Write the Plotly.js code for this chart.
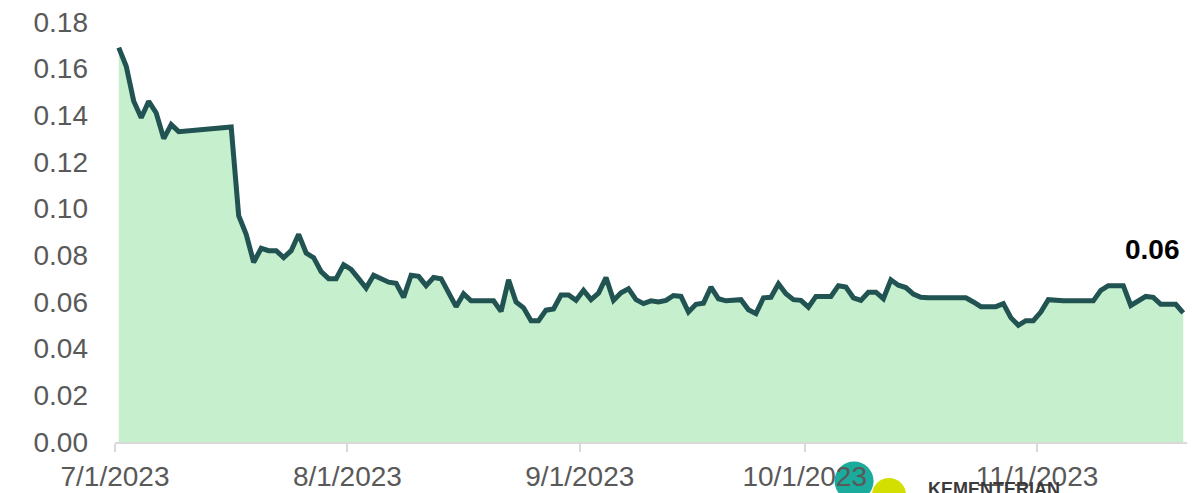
<!DOCTYPE html>
<html>
<head>
<meta charset="utf-8">
<script src="https://cdn.plot.ly/plotly-3.0.1.min.js"></script>
<style>
  html, body { margin: 0; padding: 0; background: #ffffff; }
  #chart { width: 1196px; height: 493px; }
</style>
</head>
<body>
<div id="chart"></div>
<script>
// ---- data ----
const dates = [
  "2023-07-01","2023-07-02","2023-07-03","2023-07-04","2023-07-05","2023-07-06","2023-07-07","2023-07-08","2023-07-09",
  "2023-07-16","2023-07-17","2023-07-18","2023-07-19","2023-07-20","2023-07-21","2023-07-22","2023-07-23","2023-07-24",
  "2023-07-25","2023-07-26","2023-07-27","2023-07-28","2023-07-29","2023-07-30","2023-07-31",
  "2023-08-01","2023-08-02","2023-08-03","2023-08-04","2023-08-05","2023-08-06","2023-08-07","2023-08-08","2023-08-09",
  "2023-08-10","2023-08-11","2023-08-12","2023-08-13","2023-08-14","2023-08-15","2023-08-16","2023-08-17","2023-08-18",
  "2023-08-19","2023-08-20","2023-08-21","2023-08-22","2023-08-23","2023-08-24","2023-08-25","2023-08-26","2023-08-27",
  "2023-08-28","2023-08-29","2023-08-30","2023-08-31",
  "2023-09-01","2023-09-02","2023-09-03","2023-09-04","2023-09-05","2023-09-06","2023-09-07","2023-09-08","2023-09-09",
  "2023-09-10","2023-09-11","2023-09-12","2023-09-13","2023-09-14","2023-09-15","2023-09-16","2023-09-17","2023-09-18",
  "2023-09-19","2023-09-20","2023-09-21","2023-09-22","2023-09-23","2023-09-24","2023-09-25","2023-09-26","2023-09-27",
  "2023-09-28","2023-09-29","2023-09-30",
  "2023-10-01","2023-10-02","2023-10-03","2023-10-04","2023-10-05","2023-10-06","2023-10-07","2023-10-08","2023-10-09",
  "2023-10-10","2023-10-11","2023-10-12","2023-10-13","2023-10-14","2023-10-15","2023-10-16","2023-10-17","2023-10-18",
  "2023-10-19","2023-10-20","2023-10-21","2023-10-22","2023-10-23","2023-10-24","2023-10-25","2023-10-26","2023-10-27",
  "2023-10-28","2023-10-29","2023-10-30","2023-10-31",
  "2023-11-01","2023-11-02","2023-11-03","2023-11-04","2023-11-05","2023-11-06","2023-11-07","2023-11-08","2023-11-09",
  "2023-11-10","2023-11-11","2023-11-12","2023-11-13","2023-11-14","2023-11-15","2023-11-16","2023-11-17","2023-11-18",
  "2023-11-19","2023-11-20"
];
const values = [
  0.169,0.161,0.146,0.139,0.146,0.141,0.130,0.136,0.133,
  0.135,0.097,0.089,0.077,0.083,0.082,0.082,0.079,0.082,
  0.089,0.081,0.079,0.073,0.070,0.070,0.076,
  0.074,0.070,0.066,0.0715,0.070,0.0685,0.068,0.062,0.0715,
  0.071,0.067,0.0705,0.070,0.064,0.058,0.0635,0.0605,0.0605,
  0.0605,0.0605,0.056,0.0695,0.060,0.0575,0.052,0.052,0.0565,
  0.057,0.063,0.063,0.0607,
  0.065,0.061,0.0638,0.0705,0.0607,0.064,0.0657,0.061,0.0593,
  0.0605,0.060,0.0607,0.0628,0.0624,0.0557,0.059,0.0595,0.0664,
  0.0614,0.0605,0.0605,0.061,0.0567,0.055,0.0618,0.062,0.0678,
  0.0635,0.061,0.0607,
  0.0578,0.0624,0.0624,0.0624,0.067,0.0664,0.0618,0.0607,0.0642,
  0.0642,0.0614,0.0695,0.0672,0.0662,0.0634,0.062,0.0618,0.0618,
  0.0618,0.0618,0.0618,0.0618,0.060,0.058,0.058,0.058,0.0593,
  0.0533,0.050,0.052,0.052,
  0.0557,0.061,0.0605,0.0605,0.0605,0.0605,0.0605,0.0605,0.065,
  0.067,0.067,0.067,0.0585,0.0607,0.0624,0.062,0.059,0.059,
  0.059,0.0553
];
const tickDates = ["2023-07-01","2023-08-01","2023-09-01","2023-10-01","2023-11-01"];
const tickLabels = ["7/1/2023","8/1/2023","9/1/2023","10/1/2023","11/1/2023"];
const lastLabel = "0.06";
const logoText = "KEMENTERIAN";

// points sit in the middle of each day (date-axis style)
const xs = dates.map(d => d + " 12:00");

const trace = {
  type: "scatter",
  mode: "lines",
  x: xs,
  y: values,
  fill: "tozeroy",
  fillcolor: "rgb(198,239,206)",
  line: { color: "#215352", width: 5, shape: "linear" },
  hoverinfo: "x+y"
};

const font = "Liberation Sans, Arial, sans-serif";

const layout = {
  width: 1196,
  height: 493,
  margin: { l: 115, r: 9, t: 22, b: 51 },
  paper_bgcolor: "#ffffff",
  plot_bgcolor: "#ffffff",
  showlegend: false,
  font: { family: font, size: 28, color: "#595959" },
  xaxis: {
    type: "date",
    range: ["2023-07-01", "2023-11-21"],
    tickvals: tickDates,
    ticktext: tickLabels,
    showgrid: false,
    zeroline: false,
    showline: true,
    linecolor: "#d9d9d9",
    linewidth: 2,
    ticks: "outside",
    ticklen: 8,
    tickwidth: 2,
    tickcolor: "#d9d9d9",
    tickfont: { family: font, size: 28, color: "#595959" },
    fixedrange: true
  },
  yaxis: {
    range: [0, 0.18],
    dtick: 0.02,
    tick0: 0,
    tickformat: ".2f",
    showgrid: false,
    zeroline: false,
    showline: false,
    ticks: "",
    ticklabelstandoff: 26,
    tickfont: { family: font, size: 28, color: "#595959" },
    fixedrange: true
  },
  annotations: [
    {
      xref: "paper", yref: "paper",
      x: 0.9674, y: 0.4595,
      xanchor: "center", yanchor: "middle",
      text: "<b>" + lastLabel + "</b>",
      showarrow: false,
      font: { family: font, size: 28, color: "#000000" }
    },
    {
      xref: "paper", yref: "paper",
      x: 0.7565, y: -0.112,
      xanchor: "left", yanchor: "middle",
      text: "<b>" + logoText + "</b>",
      showarrow: false,
      font: { family: font, size: 18, color: "#3a3a3a" }
    }
  ],
  shapes: [
    {
      type: "circle", xref: "paper", yref: "paper", layer: "below",
      x0: 0.6712, x1: 0.7076, y0: -0.0464, y1: -0.1393,
      fillcolor: "#1aab9c", line: { width: 0 }
    },
    {
      type: "circle", xref: "paper", yref: "paper", layer: "below",
      x0: 0.7062, x1: 0.7379, y0: -0.0857, y1: -0.1667,
      fillcolor: "#d3df00", line: { width: 0 }
    }
  ]
};

Plotly.newPlot("chart", [trace], layout, { displayModeBar: false, staticPlot: true });
</script>
</body>
</html>
